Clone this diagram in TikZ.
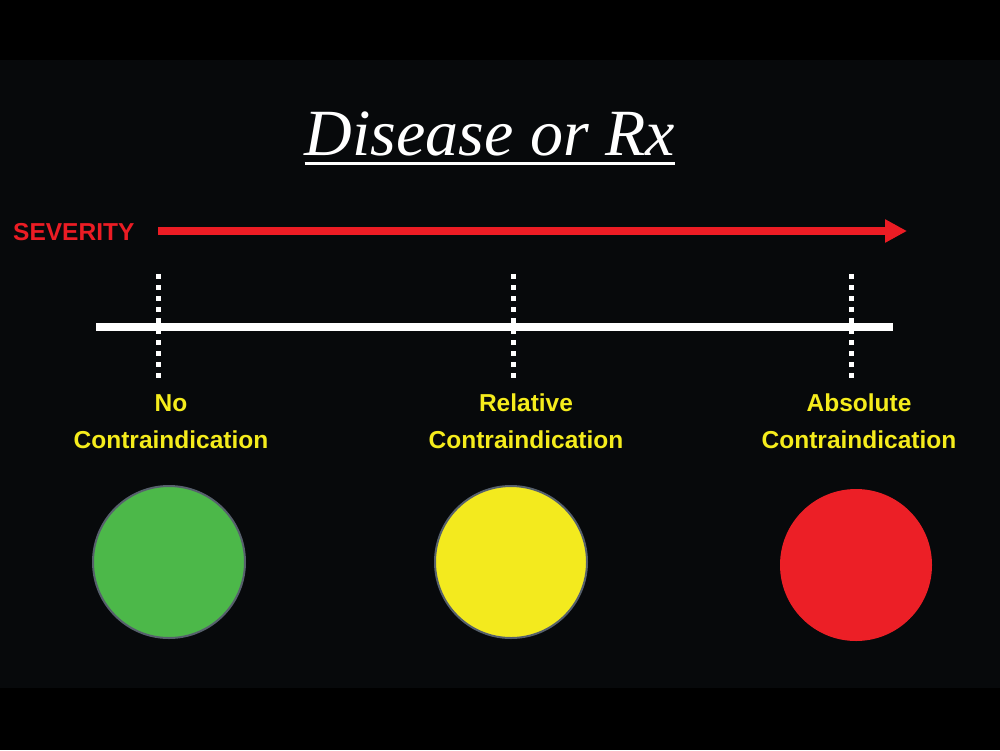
\documentclass[tikz,border=0pt]{standalone}
\usepackage{fontspec}
\setmainfont{Liberation Serif}
\setsansfont{Liberation Sans}
\usetikzlibrary{arrows.meta}
\definecolor{cipanel}{HTML}{07090B}
\definecolor{cired}{HTML}{EC1C24}
\definecolor{ciyellow}{HTML}{F5EC1C}
\definecolor{cigreen}{HTML}{4CB849}
\definecolor{cidotyellow}{HTML}{F3EA1E}
\definecolor{cidotred}{HTML}{EC1F26}
\definecolor{cirim}{HTML}{56606C}
\tikzset{
  cititle/.style={font=\itshape\fontsize{66}{70}\selectfont, text=white,
    inner sep=0pt},
  ciseverity/.style={font=\sffamily\bfseries\fontsize{24.5}{30}\selectfont,
    text=cired, inner sep=0pt},
  cilabel/.style={font=\sffamily\bfseries\fontsize{24.5}{37}\selectfont,
    text=ciyellow, align=center, inner sep=0pt, anchor=north},
  ciarrow/.style={draw=cired, line width=8pt,
    -{Triangle[length=22pt, width=22pt]}},
  ciscale/.style={draw=white, line width=8pt},
  citick/.style={draw=white, line width=5pt, dash pattern=on 5pt off 6pt},
  cidot/.style={circle, minimum size=152pt, inner sep=0pt, line width=2pt},
}

\begin{document}
\begin{tikzpicture}[x=1pt, y=-1pt]

% Slide background.
\fill[black] (0, 0) rectangle (1000, 750);
\fill[cipanel] (0, 60) rectangle (1000, 688);

% Header.
\node[cititle, anchor=base] (title) at (490, 155) {Disease or Rx};
\draw[white, line width=3pt]
  ([yshift=-8pt]title.base west) -- ([yshift=-8pt]title.base east);

% Severity arrow.
\node[ciseverity, anchor=base west] (severity) at (13, 240) {SEVERITY};
\coordinate (sevstart) at (158, 231);
\coordinate (sevend) at (907, 231);
\draw[ciarrow] (sevstart) -- (sevend);

% Scale with three dotted marks.
\coordinate (scaleleft) at (96, 327);
\coordinate (scaleright) at (893, 327);
\draw[ciscale] (scaleleft) -- (scaleright);
\foreach \i/\x in {0/158, 1/513, 2/851} {
  \coordinate (tick\i top) at (\x, 274);
  \coordinate (tick\i bottom) at (\x, 380);
  \draw[citick] (tick\i top) -- (tick\i bottom);
}

% Labels and the three lights.
\node[cilabel] (label0) at (171, 394) {No\\Contraindication};
\node[cilabel] (label1) at (526, 394) {Relative\\Contraindication};
\node[cilabel] (label2) at (859, 394) {Absolute\\Contraindication};

\node[cidot, fill=cigreen, draw=cirim] (light0) at (169, 562) {};
\node[cidot, fill=cidotyellow, draw=cirim] (light1) at (511, 562) {};
\node[cidot, fill=cidotred] (light2) at (856, 565) {};

\end{tikzpicture}
\end{document}
